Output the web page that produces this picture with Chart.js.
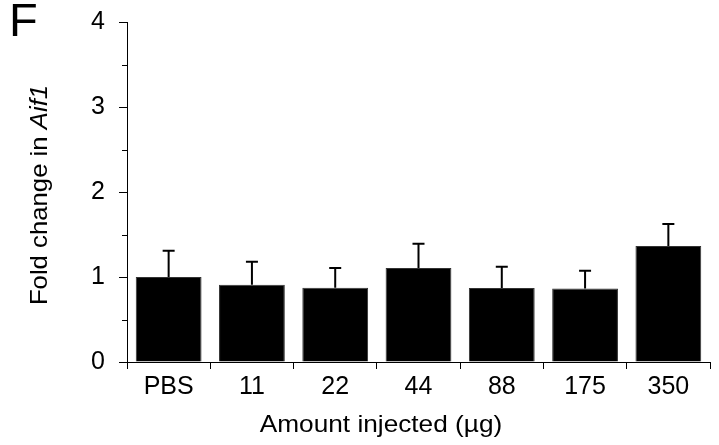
<!DOCTYPE html>
<html>
<head>
<meta charset="utf-8">
<script src="https://cdn.jsdelivr.net/npm/chart.js@4"></script>
<style>
  html, body { margin: 0; padding: 0; background: #fff; }
  #wrap { width: 719px; height: 445px; }
</style>
</head>
<body>
<div id="wrap"><canvas id="myChart" width="719" height="445"></canvas></div>
<script>
  const categories = ['PBS', '11', '22', '44', '88', '175', '350'];
  const foldChange = [1.00, 0.91, 0.875, 1.105, 0.87, 0.865, 1.365];
  const errorSD = [0.31, 0.27, 0.23, 0.285, 0.25, 0.21, 0.26];
  const minorTicks = [0.5, 1.5, 2.5, 3.5];

  const FONT = '"Liberation Sans", Arial, sans-serif';

  // error bars (upper half only) on top of each bar
  const errorBars = {
    id: 'errorBars',
    afterDatasetsDraw(chart) {
      const { ctx, scales: { y } } = chart;
      const meta = chart.getDatasetMeta(0);
      ctx.save();
      ctx.strokeStyle = '#000';
      ctx.lineWidth = 2;
      meta.data.forEach((bar, i) => {
        const top = y.getPixelForValue(foldChange[i] + errorSD[i]);
        ctx.beginPath();
        ctx.moveTo(bar.x, bar.y);
        ctx.lineTo(bar.x, top);
        ctx.moveTo(bar.x - 6, top);
        ctx.lineTo(bar.x + 6, top);
        ctx.stroke();
      });
      ctx.restore();
    }
  };

  // minor y ticks, axis stub and the text around the plot
  const axisExtras = {
    id: 'axisExtras',
    afterDraw(chart) {
      const { ctx, chartArea: { left, bottom }, scales: { y } } = chart;
      ctx.save();
      ctx.strokeStyle = '#000';
      ctx.lineWidth = 1;
      ctx.beginPath();
      minorTicks.forEach(v => {
        const py = Math.round(y.getPixelForValue(v)) + 0.5;
        ctx.moveTo(left - 5, py);
        ctx.lineTo(left, py);
      });
      const by = Math.round(bottom) + 0.5;
      ctx.moveTo(left - 8, by);
      ctx.lineTo(left, by);
      ctx.stroke();

      ctx.fillStyle = '#000';

      // panel letter
      ctx.font = '47px ' + FONT;
      ctx.textAlign = 'left';
      ctx.textBaseline = 'alphabetic';
      ctx.fillText('F', 9, 36);

      // x title
      ctx.save();
      ctx.translate(381, 432);
      ctx.scale(1.07, 1);
      ctx.font = '24.5px ' + FONT;
      ctx.textAlign = 'center';
      ctx.fillText('Amount injected (\u00b5g)', 0, 0);
      ctx.restore();

      // y title, gene name in italics
      ctx.save();
      ctx.translate(47, 195);
      ctx.rotate(-Math.PI / 2);
      ctx.scale(1.05, 1);
      const plain = 'Fold change in ';
      const gene = 'Aif1';
      ctx.font = '24.5px ' + FONT;
      const w1 = ctx.measureText(plain).width;
      ctx.font = 'italic 24.5px ' + FONT;
      const w2 = ctx.measureText(gene).width;
      const start = -(w1 + w2) / 2;
      ctx.textAlign = 'left';
      ctx.font = '24.5px ' + FONT;
      ctx.fillText(plain, start, 0);
      ctx.font = 'italic 24.5px ' + FONT;
      ctx.fillText(gene, start + w1, 0);
      ctx.restore();

      ctx.restore();
    }
  };

  const data = {
    labels: categories,
    datasets: [{
      data: foldChange,
      backgroundColor: '#000',
      borderColor: '#333',
      borderWidth: 1,
      barPercentage: 0.79,
      categoryPercentage: 1.0
    }]
  };

  const config = {
    type: 'bar',
    data,
    options: {
      responsive: false,
      animation: false,
      events: [],
      layout: { padding: { top: 22, right: 9, left: 0, bottom: 0 } },
      plugins: {
        legend: { display: false },
        tooltip: { enabled: false }
      },
      scales: {
        x: {
          offset: true,
          grid: {
            display: true,
            offset: true,
            drawOnChartArea: false,
            drawTicks: true,
            tickLength: 7,
            color: '#000'
          },
          border: { display: true, color: '#000', width: 1 },
          ticks: {
            color: '#000',
            padding: 3,
            font: { family: FONT, size: 25 }
          },
          afterFit(scale) {
            scale.height = 83;
            scale.paddingLeft = 0;
            scale.paddingRight = 0;
          }
        },
        y: {
          min: 0,
          max: 4,
          grid: {
            display: true,
            drawOnChartArea: false,
            drawTicks: true,
            tickLength: 8,
            color: '#000'
          },
          border: { display: true, color: '#000', width: 1 },
          ticks: {
            stepSize: 1,
            color: '#000',
            padding: 14,
            font: { family: FONT, size: 25 }
          },
          afterFit(scale) {
            scale.width = 127;
            scale.paddingTop = 0;
            scale.paddingBottom = 0;
          }
        }
      }
    },
    plugins: [errorBars, axisExtras]
  };

  const myChart = new Chart(document.getElementById('myChart'), config);
</script>
</body>
</html>
